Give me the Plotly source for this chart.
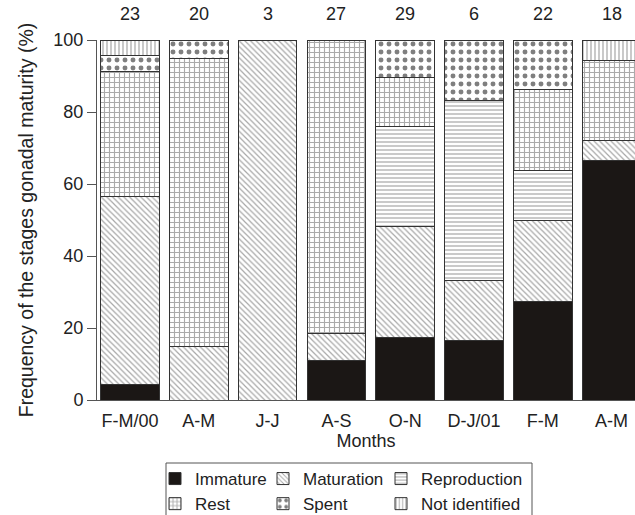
import plotly.graph_objects as go

# Sampling periods (bimonthly) and number of individuals examined in each
periods = ["F-M/00", "A-M", "J-J", "A-S", "O-N", "D-J/01", "F-M", "A-M"]
n_sampled = [23, 20, 3, 27, 29, 6, 22, 18]

# Individuals in each gonadal maturity stage, per period
immature = [1, 0, 0, 3, 5, 1, 6, 12]
maturation = [12, 3, 3, 2, 9, 1, 5, 1]
reproduction = [0, 0, 0, 0, 8, 3, 3, 0]
rest = [8, 16, 0, 22, 4, 0, 5, 4]
spent = [1, 1, 0, 0, 3, 1, 3, 0]
not_identified = [1, 0, 0, 0, 0, 0, 0, 1]

# name, counts, pattern shape, background, foreground, pattern size, solidity, legend column
stages = [
    ("Immature", immature, "", "#1b1715", "#1b1715", 6, 0.3, "legend"),
    ("Maturation", maturation, "\\", "#ffffff", "#4f4f4f", 4, 0.3, "legend2"),
    ("Reproduction", reproduction, "-", "#ffffff", "#666666", 4, 0.35, "legend3"),
    ("Rest", rest, "+", "#ffffff", "#555555", 5, 0.4, "legend"),
    ("Spent", spent, ".", "#ffffff", "#000000", 8, 0.3, "legend2"),
    ("Not identified", not_identified, "|", "#ffffff", "#666666", 4, 0.35, "legend3"),
]

x = list(range(len(periods)))
font = "Liberation Sans, Arial, sans-serif"
fs = 18
lfs = 17

# plot area in pixels: left 97, right 635, top 40, bottom 400
def px_x(p):
    return (p - 97) / 538.0

def px_y(p):
    return (400 - p) / 360.0

fig = go.Figure()
for name, counts, shape, bg, fg, size, solid, leg in stages:
    pct = [100.0 * c / n for c, n in zip(counts, n_sampled)]
    fig.add_trace(go.Bar(
        x=x,
        y=pct,
        name=name,
        legend=leg,
        width=0.85,
        marker=dict(
            color=bg,
            line=dict(color="#333333", width=1),
            pattern=dict(
                shape=shape,
                fgcolor=fg,
                bgcolor=bg,
                size=size,
                solidity=solid,
                fillmode="overlay",
            ),
        ),
    ))

# Sample sizes printed above each bar
for xi, n in zip(x, n_sampled):
    fig.add_annotation(
        x=xi, y=px_y(14), xref="x", yref="paper",
        text=str(n), showarrow=False, yanchor="middle",
        font=dict(family=font, size=fs, color="#222222"),
    )

# Frame around the three legend columns
fig.add_shape(
    type="rect", xref="paper", yref="paper",
    x0=px_x(166), x1=px_x(532), y0=px_y(463), y1=px_y(540),
    line=dict(color="#555555", width=1), fillcolor="rgba(0,0,0,0)",
    layer="above",
)

legend_common = dict(
    orientation="v",
    xanchor="left",
    yanchor="top",
    y=px_y(461),
    traceorder="normal",
    itemwidth=30,
    bgcolor="rgba(0,0,0,0)",
    borderwidth=0,
    font=dict(family=font, size=lfs, color="#222222"),
    tracegroupgap=0,
)

fig.update_layout(
    width=635,
    height=515,
    margin=dict(l=97, r=0, t=40, b=115, autoexpand=False),
    barmode="stack",
    bargap=0.15,
    plot_bgcolor="white",
    paper_bgcolor="white",
    font=dict(family=font, size=fs, color="#222222"),
    showlegend=True,
    legend=dict(x=px_x(155), **legend_common),
    legend2=dict(x=px_x(263), **legend_common),
    legend3=dict(x=px_x(381), **legend_common),
    xaxis=dict(
        range=[-0.48, 7.34],
        tickmode="array",
        tickvals=x,
        ticktext=periods,
        showline=True,
        linecolor="#555555",
        linewidth=1,
        ticks="",
        ticklabelstandoff=4,
        showgrid=False,
        zeroline=False,
        title=dict(text="Months", font=dict(size=fs), standoff=1),
        tickfont=dict(size=fs),
    ),
    yaxis=dict(
        range=[0, 100],
        tickvals=[0, 20, 40, 60, 80, 100],
        showline=True,
        linecolor="#555555",
        linewidth=1,
        ticks="outside",
        ticklen=9,
        tickcolor="#555555",
        showgrid=False,
        zeroline=False,
        title=dict(text="Frequency of the stages gonadal maturity (%)", font=dict(size=19.5), standoff=14),
        tickfont=dict(size=fs),
    ),
)

fig.write_html("out.html")
